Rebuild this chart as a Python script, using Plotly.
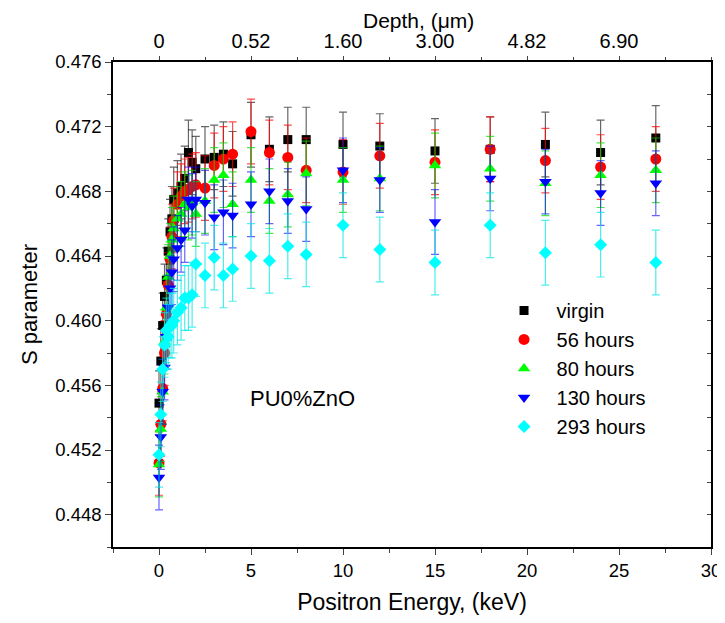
import plotly.graph_objects as go

energy = [0, 0.1, 0.2, 0.3, 0.4, 0.5, 0.6, 0.7, 0.8, 1.0, 1.2, 1.4, 1.6, 1.8, 2.0,
          2.5, 3.0, 3.5, 4.0, 5, 6, 7, 8, 10, 12, 15, 18, 21, 24, 27]

s_virgin = [0.4549, 0.4575, 0.4597, 0.4615, 0.4625, 0.4643, 0.4655, 0.4663, 0.4675, 0.4679,
            0.4683, 0.4688, 0.4704, 0.4698, 0.4694, 0.4700, 0.4701, 0.4703, 0.4697, 0.4715,
            0.4706, 0.4712, 0.4712, 0.4709, 0.4708, 0.4705, 0.4706, 0.4709, 0.4704, 0.4713]
s_56h = [0.4512, 0.4536, 0.4558, 0.4580, 0.4604, 0.4622, 0.4638, 0.4652, 0.4662, 0.4672,
         0.4677, 0.4680, 0.4681, 0.4683, 0.4684, 0.4682, 0.4696, 0.4700, 0.4703, 0.4717,
         0.4704, 0.4701, 0.4693, 0.4692, 0.4702, 0.4698, 0.4706, 0.4699, 0.4695, 0.4700]
s_80h = [0.4511, 0.4533, 0.4556, 0.4587, 0.4608, 0.4627, 0.4640, 0.4650, 0.4657, 0.4663,
         0.4666, 0.4672, 0.4670, 0.4673, 0.4666, 0.4674, 0.4687, 0.4690, 0.4672, 0.4687,
         0.4674, 0.4678, 0.4691, 0.4687, 0.4688, 0.4696, 0.4694, 0.4685, 0.4690, 0.4693]
s_130h = [0.4503, 0.4528, 0.4556, 0.4571, 0.4590, 0.4608, 0.4620, 0.4630, 0.4638, 0.4645,
          0.4650, 0.4656, 0.4675, 0.4671, 0.4675, 0.4673, 0.4664, 0.4667, 0.4665, 0.4672,
          0.4680, 0.4674, 0.4669, 0.4693, 0.4687, 0.4661, 0.4688, 0.4686, 0.4679, 0.4685]
s_293h = [0.4517, 0.4542, 0.4570, 0.4585, 0.4594, 0.4590, 0.4597, 0.4597, 0.4600, 0.4605,
          0.4608, 0.4614, 0.4614, 0.4616, 0.4635, 0.4628, 0.4639, 0.4628, 0.4632, 0.4640,
          0.4637, 0.4646, 0.4641, 0.4659, 0.4644, 0.4636, 0.4659, 0.4642, 0.4647, 0.4636]
s_error = 0.002

series_names = ["virgin", "56 hours", "80 hours", "130 hours", "293 hours"]
depth_tick_energy = [0, 5, 10, 15, 20, 25]
depth_tick_labels = ["0", "0.52", "1.60", "3.00", "4.82", "6.90"]

series_values = [s_virgin, s_56h, s_80h, s_130h, s_293h]
colors = ["#000000", "#ff0000", "#00ff00", "#0000ff", "#00ffff"]
err_colors = ["rgba(0,0,0,0.6)", "rgba(255,0,0,0.7)", "rgba(0,220,0,0.7)",
              "rgba(0,0,255,0.6)", "rgba(0,230,230,0.7)"]
symbols = ["square", "circle", "triangle-up", "triangle-down", "diamond"]
sizes = [9, 11, 11, 11, 10]

FONT = "Liberation Sans, Arial, sans-serif"

fig = go.Figure()
for name, vals, c, ec, sym, sz in zip(series_names, series_values, colors, err_colors, symbols, sizes):
    fig.add_trace(go.Scatter(
        x=energy, y=vals, mode="markers", name=name,
        marker=dict(symbol=sym, size=sz, color=c, line=dict(width=0)),
        error_y=dict(type="constant", value=s_error, color=ec, thickness=1.2, width=4),
    ))

# invisible trace to anchor top / right axes
fig.add_trace(go.Scatter(x=[None], y=[None], xaxis="x2", yaxis="y2",
                         showlegend=False, hoverinfo="skip"))

xr = [-2.5, 30]
yr = [0.446, 0.476]

# page body has an 8px margin, so the figure is 717x615 starting at (8, 8)
fig.update_layout(
    width=717, height=615,
    margin=dict(l=105, r=14, t=54, b=76),
    paper_bgcolor="white", plot_bgcolor="white",
    font=dict(family=FONT, size=18, color="black"),
    showlegend=True,
    legend=dict(x=0.633, y=0.528, xanchor="left", yanchor="top",
                font=dict(size=20), bgcolor="rgba(0,0,0,0)",
                itemwidth=55, tracegroupgap=0),
    xaxis=dict(range=xr, tick0=0, dtick=5, ticks="outside", ticklen=6, tickwidth=1.3,
               automargin=False,
               showline=True, linecolor="black", linewidth=1.5, showgrid=False, zeroline=False,
               minor=dict(dtick=2.5, tick0=0, ticks="outside", ticklen=4, tickwidth=1.3),
               tickfont=dict(size=18.5),
               title=dict(text="Positron Energy, (keV)", font=dict(size=23), standoff=14)),
    yaxis=dict(range=yr, tick0=0.448, dtick=0.004, tickformat=".3f", ticks="outside",
               ticklen=6, tickwidth=1.3, automargin=False,
               showline=True, linecolor="black", linewidth=1.5, showgrid=False, zeroline=False,
               minor=dict(dtick=0.002, tick0=0.448, ticks="outside", ticklen=4, tickwidth=1.3),
               tickfont=dict(size=18.5),
               title=dict(text="S parameter", font=dict(size=22), standoff=12)),
    xaxis2=dict(range=xr, overlaying="x", side="top", anchor="y", automargin=False,
                tickmode="array", tickvals=depth_tick_energy, ticktext=depth_tick_labels,
                ticks="outside", ticklen=4, tickwidth=1.3,
                showline=True, linecolor="black", linewidth=1.5, showgrid=False, zeroline=False,
                minor=dict(dtick=2.5, tick0=0, ticks="outside", ticklen=3, tickwidth=1.3),
                tickfont=dict(size=20)),
    yaxis2=dict(range=yr, overlaying="y", side="right", anchor="x", automargin=False,
                tick0=0.448, dtick=0.002, ticks="inside", ticklen=4, tickwidth=1.3,
                showticklabels=False,
                showline=True, linecolor="black", linewidth=1.5, showgrid=False, zeroline=False),
    annotations=[
        dict(x=7.8, y=0.4552, xref="x", yref="y", text="PU0%ZnO",
             showarrow=False, font=dict(size=22, family=FONT)),
        dict(x=0.511, y=1, xref="paper", yref="paper", yanchor="middle", yshift=42,
             text="Depth, (μm)", showarrow=False, font=dict(size=21, family=FONT)),
    ],
)

fig.write_html("out.html")
